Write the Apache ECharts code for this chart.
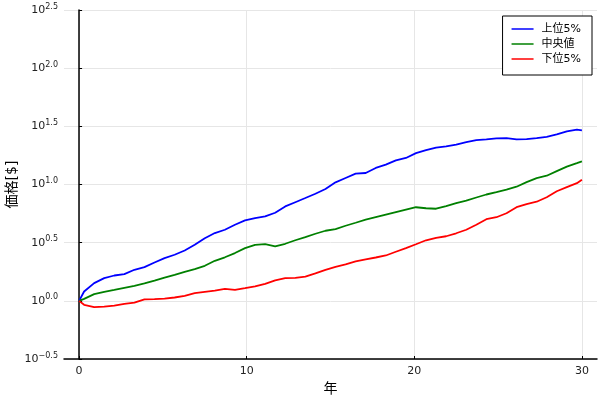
<!DOCTYPE html>
<html>
<head>
<meta charset="utf-8">
<script src="https://cdn.jsdelivr.net/npm/echarts@6/dist/echarts.min.js"></script>
<style>html,body{margin:0;padding:0;background:#fff}#c{width:600px;height:400px}</style>
</head>
<body>
<div id="c"></div>
<script>
var years = [0,0.3,0.9,1.5,2.1,2.7,3.3,3.9,4.5,5.1,5.7,6.3,6.9,7.5,8.1,8.7,9.3,9.9,10.5,11.1,11.7,12.3,12.9,13.5,14.1,14.7,15.3,15.9,16.5,17.1,17.7,18.3,18.9,19.5,20.1,20.7,21.3,21.9,22.5,23.1,23.7,24.3,24.9,25.5,26.1,26.7,27.3,27.9,28.5,29.1,29.7,30];
var top5 = [1.000,1.202,1.420,1.568,1.651,1.697,1.849,1.950,2.136,2.331,2.489,2.710,3.033,3.451,3.824,4.083,4.508,4.909,5.149,5.315,5.719,6.479,7.041,7.651,8.332,9.148,10.43,11.37,12.39,12.56,13.87,14.81,16.13,16.91,18.59,19.74,20.73,21.28,22.01,23.12,24.06,24.44,24.88,25.03,24.44,24.54,25.03,25.63,26.94,28.64,29.62,29.21];
var median = [1.000,1.040,1.142,1.195,1.243,1.294,1.346,1.414,1.495,1.584,1.674,1.776,1.874,2.001,2.209,2.368,2.574,2.841,3.033,3.076,2.944,3.094,3.317,3.533,3.772,4.004,4.140,4.420,4.691,4.980,5.232,5.498,5.777,6.070,6.377,6.252,6.190,6.506,6.904,7.254,7.731,8.204,8.586,9.022,9.574,10.47,11.33,11.90,13.02,14.23,15.26,15.81];
var bottom5 = [1.000,0.924,0.883,0.893,0.911,0.942,0.967,1.030,1.034,1.045,1.068,1.104,1.165,1.195,1.226,1.268,1.243,1.286,1.333,1.400,1.501,1.568,1.577,1.618,1.724,1.849,1.962,2.061,2.179,2.276,2.358,2.454,2.641,2.841,3.064,3.317,3.484,3.590,3.809,4.083,4.508,5.028,5.232,5.662,6.377,6.795,7.112,7.777,8.755,9.480,10.26,11.00];
var seriesNames = ['上位5%','中央値','下位5%'];
var xTicks = [0,10,20,30];

function pairs(arr){ return years.map(function(t,i){ return [t, arr[i]]; }); }

var font = 'DejaVu Sans, "Noto Sans CJK JP", sans-serif';
var chart = echarts.init(document.getElementById('c'), null, {renderer:'canvas'});
chart.setOption({
  animation:false,
  backgroundColor:'#fff',
  textStyle:{fontFamily:font},
  grid:{left:64,right:3,top:10,bottom:41,containLabel:false,outerBoundsMode:'none'},
  legend:{
    orient:'vertical', right:8, top:16,
    data:seriesNames,
    icon:'rect', itemWidth:22, itemHeight:1.5, itemGap:1,
    padding:[6,11,9,9],
    borderColor:'#000', borderWidth:1, backgroundColor:'#fff',
    textStyle:{fontSize:11, color:'#000', lineHeight:14, padding:[0,0,0,3], fontFamily:font}
  },
  xAxis:{
    type:'value', min:-0.9, max:30.9,
    name:'年', nameLocation:'middle', nameGap:23, nameMoveOverlap:false,
    nameTextStyle:{fontSize:14, color:'#000', fontFamily:font},
    axisLine:{show:true, onZero:false, lineStyle:{color:'#000', width:1.5}},
    axisTick:{show:true, inside:true, length:3, customValues:xTicks, lineStyle:{color:'#000'}},
    axisLabel:{customValues:xTicks, fontSize:11, color:'#222', margin:7},
    splitLine:{show:true, customValues:xTicks, lineStyle:{color:'#e6e6e6', width:1}}
  },
  yAxis:{
    type:'log', logBase:Math.sqrt(10),
    min:Math.pow(10,-0.5), max:Math.pow(10,2.5),
    name:'価格[$]', nameLocation:'middle', nameGap:45, nameRotate:90, nameMoveOverlap:false,
    nameTextStyle:{fontSize:14, color:'#000', fontFamily:font},
    axisLine:{show:true, lineStyle:{color:'#000', width:1.5}},
    axisTick:{show:true, inside:true, length:3, lineStyle:{color:'#000'}},
    axisLabel:{
      margin:6, color:'#222',
      formatter:function(v){
        var e = Math.round(Math.log10(v)*10)/10;
        var s = e.toFixed(1).replace('-', '\u2212');
        return '{b|10}{s|' + s + '}';
      },
      rich:{
        b:{fontSize:11, color:'#222', fontFamily:font},
        s:{fontSize:8, color:'#222', fontFamily:font, padding:[0,0,7,0]}
      }
    },
    splitLine:{show:true, lineStyle:{color:'#e6e6e6', width:1}}
  },
  series:[
    {name:seriesNames[0], type:'line', data:pairs(top5), showSymbol:false, lineStyle:{color:'#0000ff', width:1.8}, itemStyle:{color:'#0000ff'}},
    {name:seriesNames[1], type:'line', data:pairs(median), showSymbol:false, lineStyle:{color:'#008000', width:1.8}, itemStyle:{color:'#008000'}},
    {name:seriesNames[2], type:'line', data:pairs(bottom5), showSymbol:false, lineStyle:{color:'#ff0000', width:1.8}, itemStyle:{color:'#ff0000'}}
  ]
});
</script>
</body>
</html>
